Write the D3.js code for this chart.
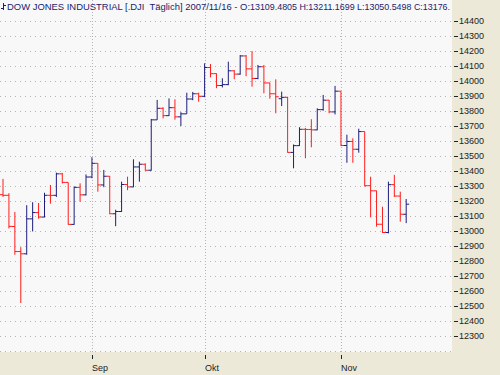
<!DOCTYPE html>
<meta charset="utf-8">
<style>

html, body {
  margin: 0;
  background-color: #ece9d8;
}

svg {
  display: block;
  font-family: "Liberation Sans", Arial, sans-serif;
}

.grid line {
  stroke: #b4b4b4;
  stroke-dasharray: 1,4;
}

.grid line.month {
  stroke-dasharray: 1,2;
}

.axis text {
  font-size: 9px;
  fill: #222;
}

.axis line {
  stroke: #222;
}

.bar {
  fill: none;
  stroke-width: 1;
}

.title {
  font-size: 9px;
  fill: #1c1c6c;
  white-space: pre;
}

</style>
<body>
<script src="https://cdn.jsdelivr.net/npm/d3@7"></script>
<script>

var dates = [
  "2007-08-13","2007-08-14","2007-08-15","2007-08-16","2007-08-17",
  "2007-08-20","2007-08-21","2007-08-22","2007-08-23","2007-08-24",
  "2007-08-27","2007-08-28","2007-08-29","2007-08-30","2007-08-31",
  "2007-09-04","2007-09-05","2007-09-06","2007-09-07",
  "2007-09-10","2007-09-11","2007-09-12","2007-09-13","2007-09-14",
  "2007-09-17","2007-09-18","2007-09-19","2007-09-20","2007-09-21",
  "2007-09-24","2007-09-25","2007-09-26","2007-09-27","2007-09-28",
  "2007-10-01","2007-10-02","2007-10-03","2007-10-04","2007-10-05",
  "2007-10-08","2007-10-09","2007-10-10","2007-10-11","2007-10-12",
  "2007-10-15","2007-10-16","2007-10-17","2007-10-18","2007-10-19",
  "2007-10-22","2007-10-23","2007-10-24","2007-10-25","2007-10-26",
  "2007-10-29","2007-10-30","2007-10-31",
  "2007-11-01","2007-11-02",
  "2007-11-05","2007-11-06","2007-11-07","2007-11-08","2007-11-09",
  "2007-11-12","2007-11-13","2007-11-14","2007-11-15","2007-11-16"
];

var open = [
  13240,13236,13028,12861,12846, 13079,13121,13091,13236,13236,
  13379,13322,13042,13289,13239, 13358,13449,13305,13363,
  13113,13128,13308,13292,13425, 13443,13403,13739,13816,13767,
  13820,13759,13779,13878,13913, 13896,14088,14047,13968,13974,
  14066,14044,14165,14079,14015, 14093,13985,13913,13880,13889,
  13522,13567,13676,13675,13672, 13807,13870,13792,
  13930,13568, 13595,13543,13661,13300,13266,
  13043,12988,13307,13231,13109.48
];

var high = [
  13345,13250,13125,12890,13170, 13190,13185,13253,13305,13387,
  13385,13322,13295,13316,13375, 13490,13450,13405,13365,
  13140,13327,13360,13476,13460, 13449,13745,13872,13823,13882,
  13876,13790,13920,13925,13920, 14116,14111,14049,14016,14127,
  14071,14171,14171,14198,14105, 14105,13987,14009,13927,13893,
  13575,13690,13685,13743,13816, 13905,13872,13965,
  13930,13640, 13616,13680,13661,13360,13267,
  13160,13327,13372,13260,13211.17
];

var low = [
  13225,13015,12840,12518,12840, 12995,13080,13089,13180,13225,
  13315,13040,13040,13193,13235, 13350,13260,13290,13110,
  13030,13125,13270,13290,13327, 13400,13400,13739,13749,13765,
  13740,13698,13779,13870,13860, 13890,14022,13950,13955,13970,
  14010,14040,14030,13960,14010, 13916,13880,13783,13831,13520,
  13416,13565,13483,13556,13670, 13800,13783,13775,
  13565,13453, 13453,13520,13295,13089,13027,
  12985,12982,13225,13060,13050.55
];

var close = [
  13236,13029,12861,12846,13079, 13121,13091,13236,13235,13379,
  13322,13042,13289,13239,13358, 13449,13305,13363,13113,
  13128,13308,13292,13425,13443, 13403,13739,13816,13767,13820,
  13759,13779,13878,13913,13896, 14088,14047,13968,13974,14066,
  14044,14165,14079,14015,14093, 13985,13913,13893,13889,13522,
  13567,13676,13675,13672,13807, 13870,13792,13930,
  13568,13595, 13543,13661,13300,13266,13043,
  12988,13307,13231,13110,13176.79
];

var monthDates = ["2007-09-04", "2007-10-01", "2007-11-01"];
var monthLabels = ["Sep", "Okt", "Nov"];

var yTicks = [12300,12400,12500,12600,12700,12800,12900,13000,13100,13200,
              13300,13400,13500,13600,13700,13800,13900,14000,14100,14200,
              14300,14400];
var gridValues = [12200].concat(yTicks);

// the header is shown cut short at the plot edge, as in the original
var titleHead = "DOW JONES INDUSTRIAL [.DJI  T\u00e4glich] 2007/11/16 - O:";
var titleTail = "13109.4805 H:13211.1699 L:13050.5498 C:13176.";

var width = 500,
    height = 375,
    plotW = 452,
    plotH = 352;

var upColor = "#1c1c7c",
    downColor = "#ff1c1c";

var data = dates.map(function(d, i) {
  return {date: d, o: open[i], h: high[i], l: low[i], c: close[i]};
});

var x = d3.scalePoint()
    .domain(dates)
    .range([3, 406.2]);

var y = d3.scaleLinear()
    .domain([12200, 14400])
    .range([350.7, 20.7]);

var svg = d3.select("body").append("svg")
    .attr("width", width)
    .attr("height", height)
    .style("background-color", "#ece9d8");

svg.append("rect")
    .attr("width", width)
    .attr("height", height)
    .style("fill", "#ece9d8");

var plot = svg.append("svg")
    .attr("width", plotW)
    .attr("height", plotH)
    .attr("overflow", "hidden");

plot.append("rect")
    .attr("width", plotW)
    .attr("height", plotH)
    .style("fill", "#f8f8f8");

var grid = plot.append("g").attr("class", "grid");

grid.selectAll(".hline")
    .data(gridValues)
  .enter().append("line")
    .attr("class", "hline")
    .attr("x1", 0)
    .attr("x2", plotW)
    .attr("y1", function(d) { return Math.round(y(d)) + 0.5; })
    .attr("y2", function(d) { return Math.round(y(d)) + 0.5; });

grid.selectAll(".month")
    .data(monthDates)
  .enter().append("line")
    .attr("class", "month")
    .attr("x1", function(d) { return Math.round(x(d)) + 0.5; })
    .attr("x2", function(d) { return Math.round(x(d)) + 0.5; })
    .attr("y1", 0)
    .attr("y2", plotH);

// OHLC bars
plot.append("g")
  .selectAll(".bar")
    .data(data)
  .enter().append("path")
    .attr("class", "bar")
    .attr("stroke", function(d) { return d.c >= d.o ? upColor : downColor; })
    .attr("d", function(d) {
      var cx = x(d.date);
      return "M" + cx + "," + y(d.h) + "V" + y(d.l) +
             "M" + (cx - 3) + "," + y(d.o) + "H" + cx +
             "M" + cx + "," + y(d.c) + "H" + (cx + 3);
    });

// title with small bar icon
plot.append("path")
    .attr("d", "M3.5,3V10M1,8.5H3.5M3.5,5.5H6")
    .attr("stroke", "#1c1c6c")
    .attr("fill", "none");

plot.append("text")
    .attr("class", "title")
    .attr("x", 7)
    .attr("y", 10)
    .attr("textLength", 243)
    .attr("lengthAdjust", "spacingAndGlyphs")
    .text(titleHead);

plot.append("text")
    .attr("class", "title")
    .attr("x", 250)
    .attr("y", 10)
    .attr("textLength", 200)
    .attr("lengthAdjust", "spacingAndGlyphs")
    .text(titleTail);

// right axis
var yAxis = svg.append("g")
    .attr("class", "axis y");

yAxis.selectAll("line")
    .data(yTicks)
  .enter().append("line")
    .attr("x1", 454)
    .attr("x2", 458)
    .attr("y1", function(d) { return Math.round(y(d)) + 0.5; })
    .attr("y2", function(d) { return Math.round(y(d)) + 0.5; });

yAxis.selectAll("text")
    .data(yTicks)
  .enter().append("text")
    .attr("x", 459)
    .attr("y", function(d) { return y(d); })
    .attr("dy", "0.35em")
    .text(function(d) { return d; });

// bottom axis
var xAxis = svg.append("g")
    .attr("class", "axis x");

xAxis.selectAll("line")
    .data(monthDates)
  .enter().append("line")
    .attr("x1", function(d) { return Math.round(x(d)) + 0.5; })
    .attr("x2", function(d) { return Math.round(x(d)) + 0.5; })
    .attr("y1", 355)
    .attr("y2", 359);

xAxis.selectAll("text")
    .data(monthDates)
  .enter().append("text")
    .attr("x", function(d) { return Math.round(x(d)); })
    .attr("y", 371)
    .text(function(d, i) { return monthLabels[i]; });

</script>
